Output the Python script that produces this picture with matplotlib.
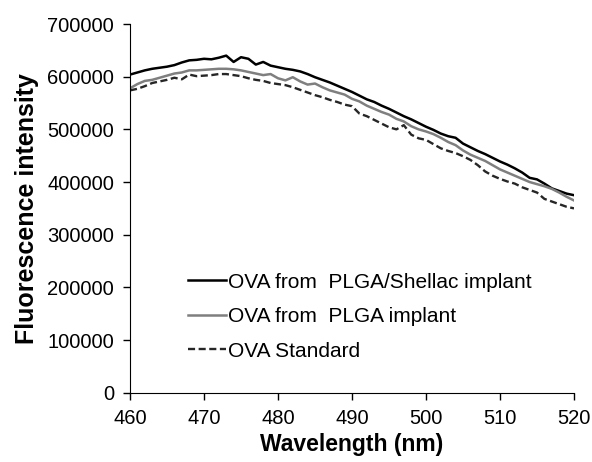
import numpy as np
import matplotlib
matplotlib.use("Agg")
from matplotlib import pyplot as plt

plt.rcParams['font.family'] = ['Liberation Sans', 'DejaVu Sans']

wavelength = np.arange(460, 521)

# fluorescence intensity, one value per nm
shellac = [604, 608, 612, 615, 617, 619, 622, 627, 631, 632,
           634, 633, 636, 640, 628, 637, 634, 623, 628, 621,
           618, 615, 613, 610, 605, 599, 594, 589, 583, 577,
           571, 564, 557, 552, 545, 539, 532, 525, 519, 512,
           505, 499, 492, 487, 484, 473, 466, 459, 453, 446,
           439, 433, 426, 418, 408, 405, 397, 388, 383, 378,
           375]
plga = [578, 586, 592, 594, 598, 602, 606, 608, 612, 612,
        613, 614, 615, 615, 614, 612, 609, 606, 603, 605,
        597, 593, 599, 591, 585, 587, 580, 574, 570, 566,
        558, 553, 545, 539, 533, 528, 520, 515, 506, 500,
        496, 491, 484, 476, 470, 460, 452, 446, 440, 432,
        424, 418, 412, 406, 400, 396, 392, 387, 380, 372,
        365]
standard = [574, 577, 582, 588, 591, 594, 598, 595, 604, 601,
            602, 603, 605, 605, 603, 601, 597, 594, 592, 588,
            586, 584, 580, 575, 570, 565, 561, 556, 552, 547,
            544, 530, 525, 518, 511, 504, 500, 508, 490, 483,
            480, 472, 464, 459, 455, 449, 442, 432, 420, 412,
            406, 401, 397, 390, 385, 380, 368, 363, 358, 353,
            350]

shellac = np.array(shellac) * 1000
plga = np.array(plga) * 1000
standard = np.array(standard) * 1000

fig = plt.figure(figsize=(5.92, 4.62), dpi=100)
ax = fig.add_axes([0.2196, 0.150, 0.750, 0.798])

ax.plot(wavelength, shellac, color='black', lw=1.8, label='OVA from  PLGA/Shellac implant')
ax.plot(wavelength, plga, color='#7f7f7f', lw=1.8, label='OVA from  PLGA implant')
ax.plot(wavelength, standard, color='#262626', lw=1.7, ls=(0, (3, 1.5)), label='OVA Standard')

ax.set_xlim(460, 520)
ax.set_ylim(0, 700000)
ax.set_xticks(range(460, 521, 10))
ax.set_yticks(range(0, 700001, 100000))
ax.tick_params(labelsize=14.5, direction='out', length=5, width=1, pad=6.5)
ax.spines['top'].set_visible(False)
ax.spines['right'].set_visible(False)

ax.set_xlabel('Wavelength (nm)', fontsize=16.5, fontweight='bold', labelpad=4)
ax.set_ylabel('Fluorescence intensity', fontsize=18, fontweight='bold', labelpad=6)

ax.legend(loc='upper left', bbox_to_anchor=(0.131, 0.326), frameon=False,
          fontsize=15, handlelength=1.8, handletextpad=0.1, labelspacing=0.75,
          borderpad=0, borderaxespad=0)

fig.savefig('out.png', dpi=100)
